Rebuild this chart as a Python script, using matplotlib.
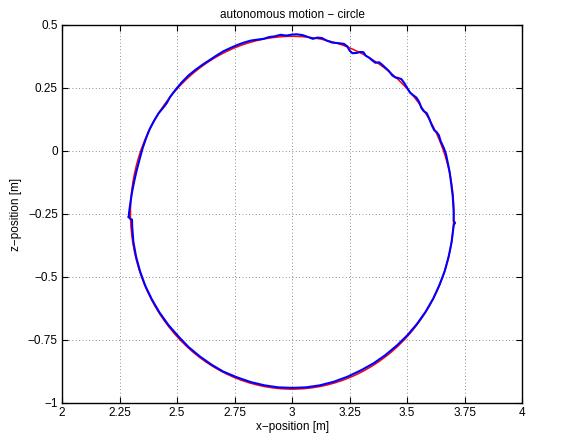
import matplotlib.pyplot as plt
from matplotlib.patches import Ellipse

# reference circle (red)
ref_center = (3.0, -0.245)
ref_width = 1.405
ref_height = 1.40

# measured trajectory (blue)
traj_x = [2.290, 2.297, 2.304, 2.305, 2.310, 2.322, 2.340, 2.362, 2.390, 2.423,
          2.462, 2.505, 2.550, 2.600, 2.650, 2.700, 2.760, 2.820, 2.880, 2.940,
          3.000, 3.060, 3.120, 3.180, 3.240, 3.300, 3.355, 3.405, 3.455, 3.500,
          3.542, 3.580, 3.613, 3.640, 3.663, 3.680, 3.693, 3.700, 3.703, 3.708,
          3.702, 3.702, 3.698, 3.694, 3.690, 3.684, 3.676, 3.668, 3.660,
          3.655, 3.645, 3.638, 3.628, 3.618, 3.608, 3.595, 3.585, 3.572, 3.562,
          3.552, 3.540, 3.525, 3.512, 3.500, 3.490, 3.475, 3.460, 3.448, 3.435,
          3.420, 3.400, 3.388, 3.378, 3.362, 3.350, 3.335, 3.320, 3.310, 3.295,
          3.280, 3.262, 3.250, 3.240, 3.225, 3.200, 3.175, 3.150, 3.130, 3.110,
          3.090, 3.070, 3.045, 3.020, 3.000, 2.975, 2.950, 2.925, 2.900, 2.875,
          2.850, 2.820, 2.790, 2.760, 2.730, 2.700, 2.670, 2.640,
          2.610, 2.580, 2.550, 2.520, 2.495, 2.470, 2.455, 2.440, 2.420, 2.400,
          2.380, 2.365, 2.350, 2.338, 2.325, 2.315, 2.305, 2.298, 2.292, 2.290]
traj_z = [-0.262, -0.270, -0.272, -0.300, -0.360, -0.420, -0.480, -0.535, -0.588, -0.640,
          -0.690, -0.735, -0.778, -0.816, -0.848, -0.875, -0.898, -0.917, -0.930, -0.938,
          -0.940, -0.938, -0.930, -0.916, -0.896, -0.870, -0.842, -0.810, -0.772, -0.732,
          -0.687, -0.638, -0.586, -0.532, -0.477, -0.420, -0.362, -0.310, -0.292, -0.286,
          -0.276, -0.240, -0.180, -0.150, -0.120, -0.080, -0.045, -0.010, 0.010,
          0.020, 0.040, 0.062, 0.075, 0.082, 0.100, 0.130, 0.150, 0.158, 0.170,
          0.195, 0.212, 0.222, 0.232, 0.250, 0.266, 0.285, 0.290, 0.292, 0.300,
          0.318, 0.335, 0.345, 0.352, 0.350, 0.358, 0.370, 0.378, 0.392, 0.393,
          0.389, 0.388, 0.398, 0.415, 0.425, 0.428, 0.430, 0.438, 0.448, 0.450,
          0.445, 0.452, 0.460, 0.463, 0.462, 0.458, 0.461, 0.455, 0.452, 0.445,
          0.442, 0.438, 0.430, 0.420, 0.408, 0.395, 0.378, 0.360,
          0.342, 0.322, 0.300, 0.272, 0.245, 0.215, 0.190, 0.172, 0.150, 0.120,
          0.085, 0.050, 0.010, -0.030, -0.075, -0.115, -0.160, -0.200, -0.240, -0.262]

xticks = [2, 2.25, 2.5, 2.75, 3, 3.25, 3.5, 3.75, 4]
xlabels = ['2', '2.25', '2.5', '2.75', '3', '3.25', '3.5', '3.75', '4']
yticks = [-1, -0.75, -0.5, -0.25, 0, 0.25, 0.5]
ylabels = ['\u22121', '\u22120.75', '\u22120.5', '\u22120.25', '0', '0.25', '0.5']

plt.rcParams['font.family'] = ['Liberation Sans', 'DejaVu Sans']
plt.rcParams['font.size'] = 8.5

fig = plt.figure(figsize=(5.71, 4.43), dpi=100)
ax = fig.add_axes([0.1086, 0.0903, 0.806, 0.8533])

ax.add_patch(Ellipse(ref_center, ref_width, ref_height, fill=False,
                     edgecolor='red', linewidth=1.1, zorder=3))
ax.plot(traj_x, traj_z, color='blue', linewidth=1.5, zorder=4)

ax.set_xlim(2, 4)
ax.set_ylim(-1, 0.5)
ax.set_xticks(xticks)
ax.set_xticklabels(xlabels)
ax.set_yticks(yticks)
ax.set_yticklabels(ylabels)
ax.tick_params(direction='in', top=True, right=True, length=4, width=0.8,
               labelsize=8.5, pad=3)
ax.grid(True, linestyle=(0, (1, 3)), color='black', linewidth=0.6, alpha=0.6)
for s in ax.spines.values():
    s.set_linewidth(1.0)

ax.set_xlabel('x\u2212position [m]', labelpad=1)
ax.set_ylabel('z\u2212position [m]', labelpad=4)
ax.set_title('autonomous motion \u2212 circle', fontsize=8.5, pad=5)

fig.savefig('out.png', dpi=100)
